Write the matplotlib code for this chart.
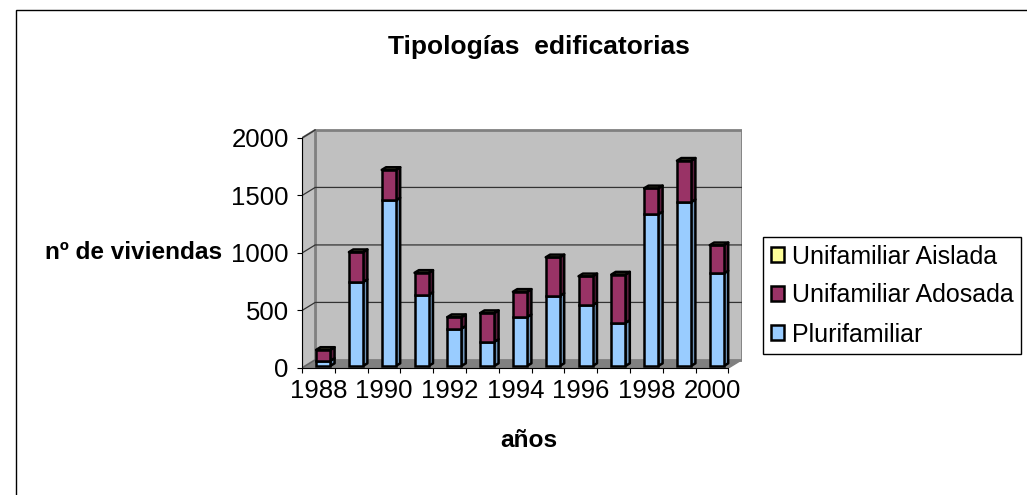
import numpy as np
import matplotlib
matplotlib.use('Agg')
import matplotlib.pyplot as plt
from matplotlib.patches import Polygon, Rectangle, Patch

plt.rcParams['font.family'] = ['Liberation Sans', 'DejaVu Sans']

# Datos
anios = [1988, 1989, 1990, 1991, 1992, 1993, 1994, 1995, 1996, 1997, 1998, 1999, 2000]
plurifamiliar = [45, 730, 1440, 620, 325, 210, 425, 610, 530, 375, 1320, 1425, 805]
unif_adosada = [95, 260, 265, 190, 100, 250, 220, 335, 250, 420, 225, 360, 245]
unif_aislada = [0, 0, 0, 0, 0, 0, 0, 0, 0, 0, 0, 0, 0]
series = ['Plurifamiliar', 'Unifamiliar Adosada', 'Unifamiliar Aislada']
colores = ['#99CCFF', '#993366', '#FFFF99']
colores_lado = ['#6E93B8', '#5A1E3C', '#B3B37A']
y_ticks = [0, 500, 1000, 1500, 2000]

n = len(anios)
DX, DY = 0.4, 70          # profundidad del efecto 3D (en unidades de datos)
ancho = 0.43
base = 0.25 * DY
bdx, bdy = 0.33 * DX, 0.33 * DY
fs = 18.5

fig = plt.figure(figsize=(10.27, 4.95), dpi=100)
ax = fig.add_axes([0.2941, 0.2566, 0.428, 0.4832])
ax.set_xlim(0, n + DX)
ax.set_ylim(0, 2000 + DY + 10)

# Paredes y suelo
ax.add_patch(Polygon([(0, 0), (n, 0), (n + DX, DY), (DX, DY)], closed=True,
                     fc='#808080', ec='#808080', lw=1, zorder=0))
ax.add_patch(Polygon([(0, 0), (DX, DY), (DX, 2000 + DY), (0, 2000)], closed=True,
                     fc='#C0C0C0', ec='#808080', lw=1.5, zorder=0.5))
ax.add_patch(Rectangle((DX, DY), n, 2000, fc='#C0C0C0', ec='#808080', lw=2, zorder=0.4))

# Lineas de division
for v in y_ticks[1:-1]:
    ax.plot([0, DX, n + DX], [v, v + DY, v + DY], color='#333333', lw=0.9, zorder=1)
ax.plot([0, DX], [2000, 2000 + DY], color='#333333', lw=0.9, zorder=1)
ax.plot([0, DX], [0, DY], color='#606060', lw=0.9, zorder=1)

# Barras apiladas con caras laterales
valores = [plurifamiliar, unif_adosada, unif_aislada]
for i in range(n):
    x0 = i + 0.43
    x1 = x0 + ancho
    abajo = base
    for k in range(3):
        h = valores[k][i]
        arriba = abajo + h
        if h > 0:
            ax.add_patch(Polygon([(x1, abajo), (x1 + bdx, abajo + bdy), (x1 + bdx, arriba + bdy), (x1, arriba)],
                                 closed=True, fc=colores_lado[k], ec='black', lw=1.8, zorder=3,
                                 joinstyle='round'))
            ax.bar(x0, h, width=ancho, bottom=abajo, align='edge', color=colores[k],
                   edgecolor='black', linewidth=1.8, zorder=4)
        abajo = arriba
    ax.add_patch(Polygon([(x0, abajo), (x1, abajo), (x1 + bdx, abajo + bdy), (x0 + bdx, abajo + bdy)],
                         closed=True, fc=colores_lado[2], ec='black', lw=1.8, zorder=5, joinstyle='round'))

# Ejes
for s in ['top', 'right']:
    ax.spines[s].set_visible(False)
ax.spines['left'].set_bounds(0, 2000)
ax.spines['bottom'].set_bounds(0, n)
ax.spines['left'].set_zorder(6)
ax.spines['bottom'].set_zorder(6)
ax.set_yticks(y_ticks)
ax.set_yticklabels([str(v) for v in y_ticks])
ax.tick_params(axis='y', direction='out', length=3.6, pad=6, labelsize=fs)
ax.set_xticks(np.arange(0, n + 1))
ax.set_xticklabels([])
ax.tick_params(axis='x', which='major', direction='out', length=3.6)
ax.set_xticks(np.arange(0, n, 2) + 0.5, minor=True)
ax.set_xticklabels([str(a) for a in anios[::2]], minor=True)
ax.tick_params(axis='x', which='minor', length=0, pad=8, labelsize=fs)

ax.set_ylabel('nº de viviendas', rotation=0, ha='right', va='center', fontsize=17.6, fontweight='bold')
ax.yaxis.set_label_coords(-0.182, 0.481)
ax.set_xlabel('años', fontsize=17.6, fontweight='bold', va='center')
ax.xaxis.set_label_coords(0.5165, -0.305)

fig.text(539 / 1027, 1 - 47 / 495, 'Tipologías  edificatorias', ha='center', va='center',
         fontsize=19, fontweight='bold')

# Leyenda
handles = [Patch(fc=colores[k], ec='black', lw=1.8) for k in [2, 1, 0]]
leg = fig.legend(handles, [series[k] for k in [2, 1, 0]], loc='upper left',
                 bbox_to_anchor=(763 / 1027, 1 - 237 / 495), borderaxespad=0,
                 fontsize=18, handlelength=0.55, handleheight=0.55, handletextpad=0.3,
                 labelspacing=0.6, borderpad=0.3, fancybox=False, framealpha=1)
leg.get_frame().set_edgecolor('black')
leg.get_frame().set_linewidth(1)

# Borde del grafico
fig.add_artist(Rectangle((16 / 1027, -0.1), 1.2, 1.1 - 10 / 495, transform=fig.transFigure,
                         fill=False, ec='black', lw=1))

fig.savefig('out.png', dpi=100)
